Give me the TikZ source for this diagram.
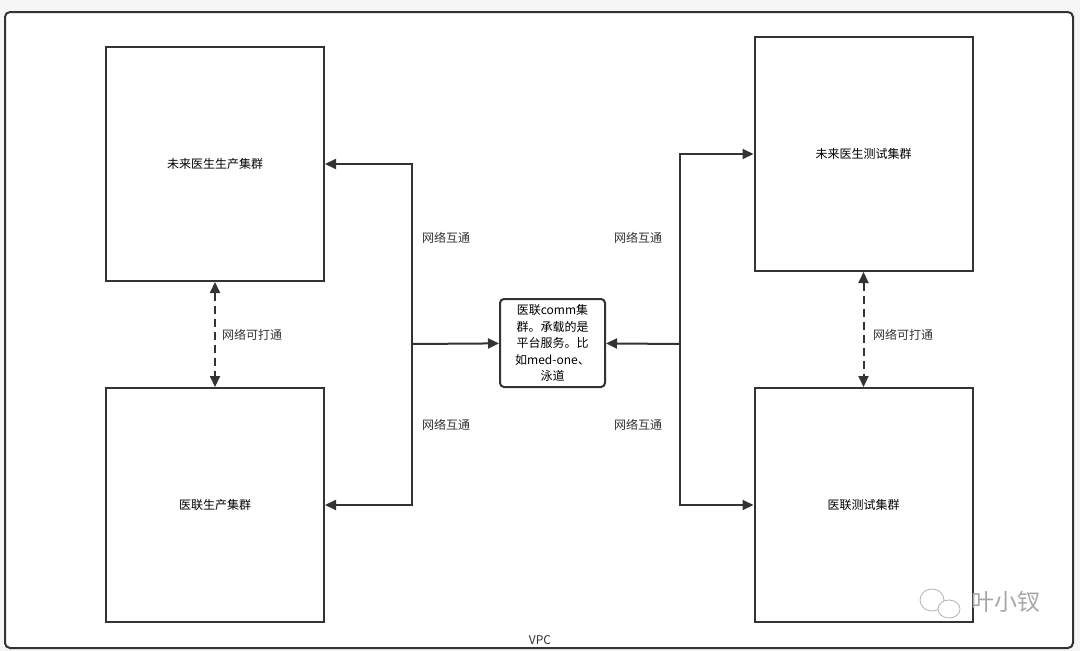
\documentclass[tikz,border=0pt]{standalone}
\usepackage{fontspec}
\setmainfont{Noto Sans CJK SC}
\usetikzlibrary{arrows.meta}
\definecolor{ln}{HTML}{333333}
\tikzset{
  box/.style={draw=ln, line width=2pt, minimum width=218pt, minimum height=234pt, inner sep=0pt, font=\fontsize{12}{14}\selectfont},
  arr/.style={draw=ln, line width=2pt, -{Triangle[length=11pt,width=10pt]}},
  darr/.style={draw=ln, line width=2pt, dash pattern=on 8pt off 5pt, {Triangle[length=11pt,width=10pt]}-{Triangle[length=11pt,width=10pt]}},
  lbl/.style={font=\fontsize{12}{14}\selectfont, text=ln, inner sep=0pt},
}
\begin{document}
\begin{tikzpicture}[x=1pt,y=-1pt]
\fill[gray!7] (0,0) rectangle (1080,651);
\useasboundingbox (0,0) rectangle (1080,651);
\draw[ln, line width=2pt, fill=white, rounded corners=5pt] (5,12) rectangle (1073,648);
\node[lbl] (vpc) at (540,640) {VPC};

\node[box] (tl) at (215,164) {未来医生生产集群};
\node[box] (bl) at (215,505) {医联生产集群};
\node[box] (tr) at (863.5,154) {未来医生测试集群};
\node[box] (br) at (863.5,505) {医联测试集群};
\node[draw=ln, line width=2pt, rounded corners=4pt, minimum width=105pt, minimum height=88pt, inner sep=0pt, align=center, font=\fontsize{12}{16.5}\selectfont] (c) at (552.5,343) {医联comm集\\群。承载的是\\平台服务。比\\如med-one、\\泳道};

\coordinate (jl) at (412,344);
\coordinate (jr) at (680,344);
\draw[arr] (jl) |- (tl);
\draw[arr] (jl) |- (bl);
\draw[arr] (jl) -- (c);
\draw[arr] (jr) |- (tr);
\draw[arr] (jr) |- (br);
\draw[arr] (jr) -- (c);

\draw[darr] (tl.south) -- (bl.north);
\draw[darr] (tr.south) -- (br.north);

\node[lbl] (l1) at (446,238) {网络互通};
\node[lbl] (l2) at (446,425) {网络互通};
\node[lbl] (l3) at (638,238) {网络互通};
\node[lbl] (l4) at (638,425) {网络互通};
\node[lbl] (d1) at (252,335) {网络可打通};
\node[lbl] (d2) at (903,335) {网络可打通};

% watermark
\draw[gray!60, line width=0.8pt, fill=white] (932,600) ellipse (12pt and 11pt);
\draw[gray!60, line width=0.8pt, fill=white] (949,609) ellipse (11pt and 9pt);
\node[font=\fontsize{23}{25}\selectfont, text=gray!70, inner sep=0pt] (wm) at (1006,602) {叶小钗};
\end{tikzpicture}
\end{document}
